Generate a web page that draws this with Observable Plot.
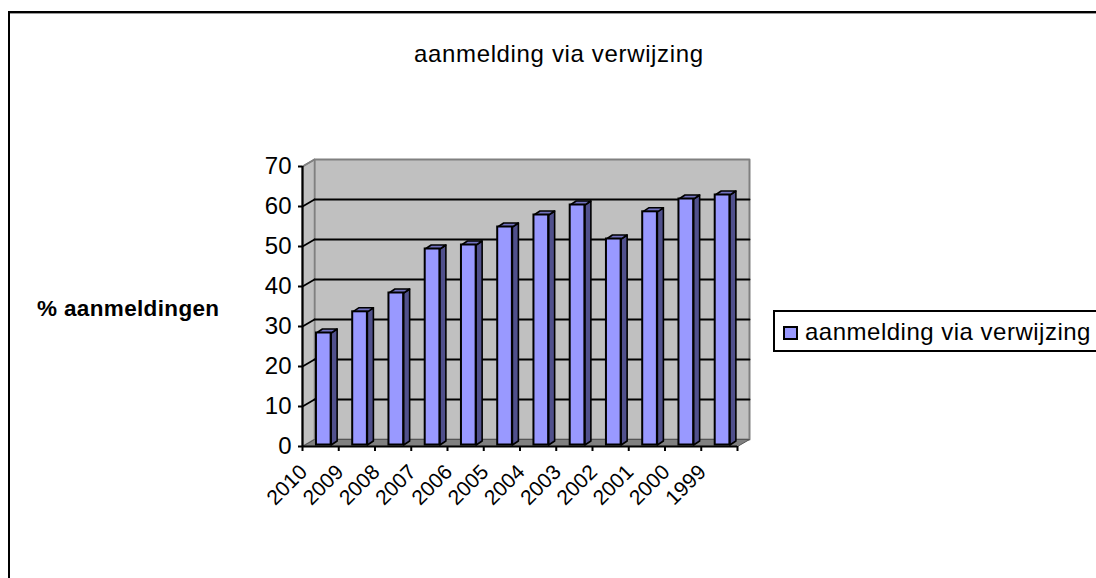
<!DOCTYPE html>
<html>
<head>
<meta charset="utf-8">
<script src="https://cdn.jsdelivr.net/npm/d3@7"></script>
<script src="https://cdn.jsdelivr.net/npm/@observablehq/plot@0.6"></script>
<style>
html,body{margin:0;padding:0;background:#fff;overflow:hidden;width:1096px;height:578px}
#wrap{position:relative;width:1096px;height:578px;overflow:hidden;font-family:"Liberation Sans",Arial,sans-serif;color:#000}
#frame{position:absolute;left:8px;top:11px;width:1200px;height:700px;border:2px solid #000;box-sizing:border-box;box-shadow:inset 0 1px 0 #999}
#chart{position:absolute;left:0;top:0}
#title{position:absolute;left:414px;top:40px;font-size:24px;letter-spacing:0.65px;line-height:28px;white-space:nowrap}
#ylabel{position:absolute;left:37px;top:295px;font-size:22.5px;letter-spacing:0.35px;line-height:28px;font-weight:bold;white-space:nowrap}
#legend{position:absolute;left:773px;top:310px;width:400px;height:42px;border:2px solid #000;box-sizing:border-box;background:#fff}
#swatch{position:absolute;left:8px;top:14px;width:15px;height:14px;background:#9999ff;border:2px solid #000;box-sizing:border-box}
#ltext{position:absolute;left:30px;top:6px;font-size:24px;letter-spacing:0.5px;line-height:28px;white-space:nowrap}
</style>
</head>
<body>
<div id="wrap">
<div id="frame"></div>
<div id="chart"></div>
<div id="title">aanmelding via verwijzing</div>
<div id="ylabel">% aanmeldingen</div>
<div id="legend"><div id="swatch"></div><div id="ltext">aanmelding via verwijzing</div></div>
</div>
<script>
const years = ["2010","2009","2008","2007","2006","2005","2004","2003","2002","2001","2000","1999"];
const percentages = [28, 33.3, 38, 49, 50, 54.5, 57.5, 60, 51.5, 58.3, 61.5, 62.5];
const yTicks = [0,10,20,30,40,50,60,70];
const gridLevels = [10,20,30,40,50,60];

const pxX = 36.25, pxY = 4;
const wallX = 12/pxX, wallY = 7/pxY, barX = 6/pxX, barY = 4/pxY, barLeft = 0.385, barRight = 0.79;
const poly = (id, pts) => [...pts, pts[0]].map(([x,y]) => ({id,x,y}));

const bars = percentages.map((v,i) => ({year:years[i], v, x1:i+barLeft, x2:i+barRight}));
const sideFaces = bars.flatMap((b,i) => poly(i, [[b.x2,0],[b.x2+barX,barY],[b.x2+barX,b.v+barY],[b.x2,b.v]]));
const topFaces = bars.flatMap((b,i) => poly(i, [[b.x1,b.v],[b.x2,b.v],[b.x2+barX,b.v+barY],[b.x1+barX,b.v+barY]]));
const leftWall = poly(0, [[0,0],[wallX,wallY],[wallX,70+wallY],[0,70]]);
const floor = poly(0, [[0,0],[12,0],[12+wallX,wallY],[wallX,wallY]]);
const backWall = poly(0, [[wallX,wallY],[12+wallX,wallY],[12+wallX,70+wallY],[wallX,70+wallY]]);
const backGrid = gridLevels.flatMap(l => [{id:l,x:wallX,y:l+wallY},{id:l,x:12+wallX,y:l+wallY}]);
const sideGrid = yTicks.slice(1,-1).flatMap(l => [{id:l,x:0,y:l},{id:l,x:wallX,y:l+wallY}]);
const top70 = [{id:0,x:0,y:70},{id:0,x:wallX,y:70+wallY}];

const shape = (d, o) => Plot.line(d, {x:"x", y:"y", z:"id", curve:"linear", ...o});

const chart = Plot.plot({
  width:1096, height:578,
  marginLeft:302, marginRight:359, marginTop:166, marginBottom:132,
  style:{background:"transparent", fontFamily:"'Liberation Sans',Arial,sans-serif", color:"#000"},
  x:{domain:[0,12], axis:null},
  y:{domain:[0,70], axis:null},
  marks:[
    shape(backWall,{fill:"#c0c0c0", stroke:"#808080", strokeWidth:2}),
    shape(leftWall,{fill:"#c0c0c0", stroke:"#808080", strokeWidth:1.5}),
    shape(floor,{fill:"#808080", stroke:"#555", strokeWidth:1}),
    shape(backGrid,{stroke:"#000", strokeWidth:1.8}),
    shape(sideGrid,{stroke:"#000", strokeWidth:1.8}),
    shape(top70,{stroke:"#808080", strokeWidth:1.5}),
    shape(sideFaces,{fill:"#50508c", stroke:"#000", strokeWidth:1.6, dy:-1.5}),
    shape(topFaces,{fill:"#7272c0", stroke:"#000", strokeWidth:1.6, dy:-1.5}),
    Plot.rectY(bars,{x1:"x1", x2:"x2", y:"v", fill:"#9999ff", stroke:"#000", strokeWidth:2, dy:-1.5}),
    Plot.ruleX([0],{stroke:"#000", strokeWidth:2.2}),
    Plot.ruleY([0],{stroke:"#000", strokeWidth:2.2}),
    Plot.axisY({ticks:yTicks, tickSize:4, tickPadding:7, fontSize:24, label:null, stroke:"#000", strokeWidth:2, tickFormat:d=>String(d), fill:"#000"}),
    Plot.axisX({ticks:d3.range(0,13), tickSize:5, tickFormat:()=> "", label:null, stroke:"#000", strokeWidth:2}),
    Plot.text(years,{x:(d,i)=>i+0.5, y:()=>0, text:d=>d, rotate:-45, textAnchor:"end", fontSize:21, dx:-17, dy:22, fill:"#000"})
  ]
});
document.getElementById("chart").appendChild(chart);
</script>
</body>
</html>
